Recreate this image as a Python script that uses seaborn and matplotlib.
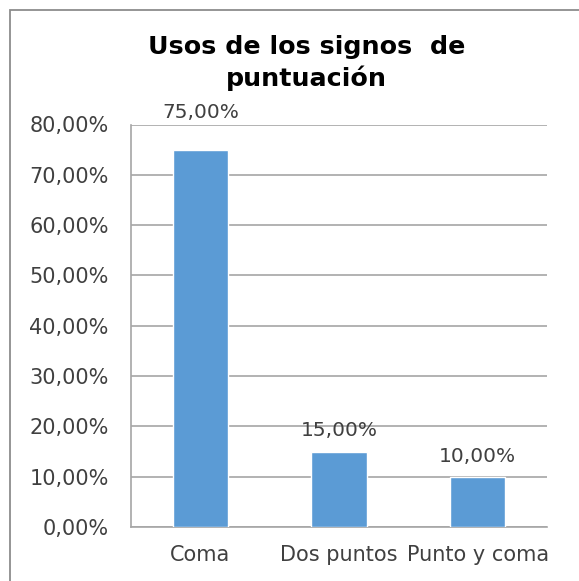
import matplotlib
matplotlib.use("Agg")
import matplotlib.pyplot as plt
import seaborn as sns
import pandas as pd

categories = ["Coma", "Dos puntos", "Punto y coma"]
values = [75.0, 15.0, 10.0]
tick_values = [0, 10, 20, 30, 40, 50, 60, 70, 80]
tick_labels = ["0,00%", "10,00%", "20,00%", "30,00%", "40,00%", "50,00%", "60,00%", "70,00%", "80,00%"]
value_labels = ["75,00%", "15,00%", "10,00%"]
label_offsets_px = [37, 21, 20]
title = "Usos de los signos  de\npuntuación"

sns.set_style("white")
plt.rcParams["font.family"] = ["DejaVu Sans"]

df = pd.DataFrame({"cat": categories, "val": values})

fig = plt.figure(figsize=(5.79, 5.81), dpi=100)
ax = fig.add_axes([131 / 579, 1 - 527 / 581, (547 - 131) / 579, (527 - 124.5) / 581])

sns.barplot(data=df, x="cat", y="val", color="#5B9BD5", saturation=1, width=0.40, ax=ax, zorder=3)

ax.set_xlim(-0.5, 2.5)
ax.set_ylim(0, 80)
ax.set_yticks(tick_values)
ax.set_yticklabels(tick_labels)
ax.set_xlabel("")
ax.set_ylabel("")
ax.yaxis.grid(True, color="#A6A6A6", linewidth=1.2, zorder=0)
ax.set_axisbelow(True)
for s in ["top", "right"]:
    ax.spines[s].set_visible(False)
ax.spines["left"].set_color("#A6A6A6")
ax.spines["bottom"].set_color("#A6A6A6")
ax.spines["left"].set_linewidth(1.2)
ax.spines["bottom"].set_linewidth(1.2)
ax.tick_params(axis="both", length=0, labelsize=15, colors="#404040")
ax.tick_params(axis="y", pad=16)
ax.tick_params(axis="x", pad=13)

for i, (v, lab) in enumerate(zip(values, value_labels)):
    ax.annotate(lab, xy=(i, v), xytext=(0, label_offsets_px[i] * 72 / 100),
                textcoords="offset points", ha="center", va="center",
                fontsize=14.5, color="#404040", annotation_clip=False)

fig.text(0.53, 1 - 63 / 581, title, ha="center", va="center", fontsize=18.3,
         fontweight="bold", color="black", linespacing=1.3)

border = plt.Rectangle((10 / 579, -0.05), 1.2, 1 - 10 / 581 + 0.05, transform=fig.transFigure,
                       fill=False, edgecolor="#8C8C8C", linewidth=1.3)
fig.add_artist(border)

fig.savefig("out.png", dpi=100)
